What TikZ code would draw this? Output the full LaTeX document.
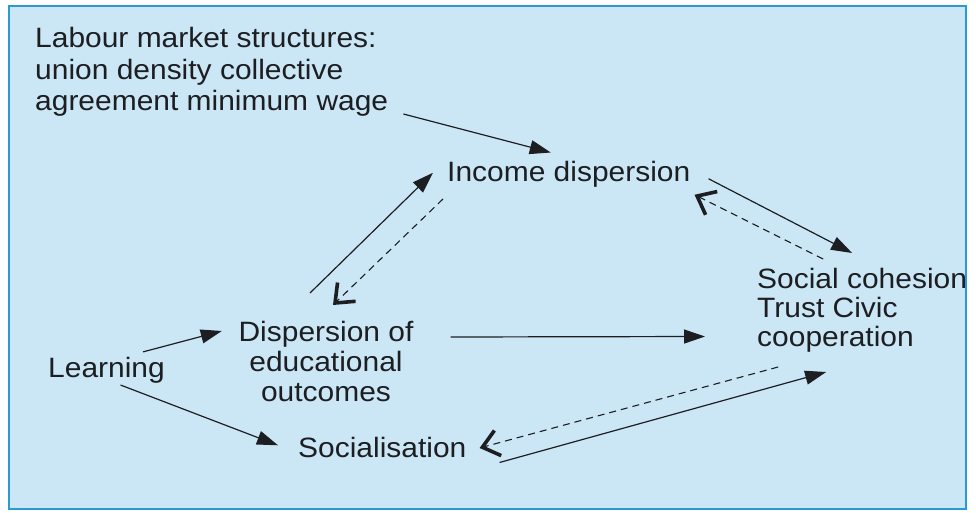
\documentclass[tikz,border=0pt]{standalone}
\usepackage{fontspec}
\setmainfont{Liberation Sans}[FakeStretch=1.07]
\usetikzlibrary{arrows.meta}

\definecolor{panel}{RGB}{203,231,245}
\definecolor{frame}{RGB}{43,154,209}
\definecolor{ink}{RGB}{28,30,34}

\begin{document}
\begin{tikzpicture}[x=1pt,y=-1pt,
    every node/.style={inner sep=0pt,text=ink,font=\fontsize{28}{30}\selectfont},
    cause/.style={draw=ink,line width=1.2pt,-{Triangle[length=21pt,width=14pt]}},
    back/.style={draw=ink,line width=1.1pt,dash pattern=on 7pt off 5pt,
      -{Straight Barb[length=16pt,width=26pt,line width'=3.6pt]}}]
  \useasboundingbox (0,0) rectangle (976,513);
  \fill[white] (0,0) rectangle (976,513);
  \draw[frame,fill=panel,line width=2.5pt] (9,6) rectangle (966,509);

  \node[anchor=north west,align=left,font=\fontsize{28}{31.5}\selectfont] (labour) at (35,27.5)
    {Labour market structures:\\union density collective\\agreement minimum wage};
  \node[anchor=base west] (income) at (447,182) {Income dispersion};
  \node[anchor=north west,align=left,font=\fontsize{28}{29}\selectfont] (cohesion) at (757,268.5)
    {Social cohesion\\Trust Civic\\cooperation};
  \node[anchor=north,align=center] (edu) at (326,321.5)
    {Dispersion of\\educational\\outcomes};
  \node[anchor=base west] (learning) at (48,377) {Learning};
  \node[anchor=base west] (social) at (298,457) {Socialisation};

  % labour market feeds income
  \path[cause] ([shift={(15,-3)}]labour.south east) -- ([shift={(-18,-9)}]income.north);
  % education <-> income
  \path[cause] ([shift={(-16,-28.5)}]edu.north) -- ([shift={(-14,-2)}]income.west);
  \path[back] ([shift={(-4,11)}]income.south west) -- ([shift={(7,-16.5)}]edu.north);
  % income <-> cohesion
  \path[cause] ([shift={(18,4)}]income.east) -- ([shift={(-10,-15.5)}]cohesion.north);
  \path[back] ([shift={(-39,-9.5)}]cohesion.north) -- ([shift={(4,20)}]income.east);
  \path[cause] ([shift={(37,15.5)}]edu.north east) -- ([shift={(-52,-16.5)}]cohesion.south west);
  % learning splits in two
  \path[cause] ([shift={(-22,-4.6)}]learning.north east) -- ([shift={(-16.6,9.5)}]edu.north west);
  \path[cause] ([shift={(14,2)}]learning.south) -- ([shift={(-20,-1.7)}]social.west);
  % socialisation <-> cohesion
  \path[cause] ([shift={(33,5)}]social.south east) -- ([shift={(-36,19)}]cohesion.south);
  \path[back] ([shift={(-84,14)}]cohesion.south) -- ([shift={(13,1)}]social.east);
\end{tikzpicture}
\end{document}
